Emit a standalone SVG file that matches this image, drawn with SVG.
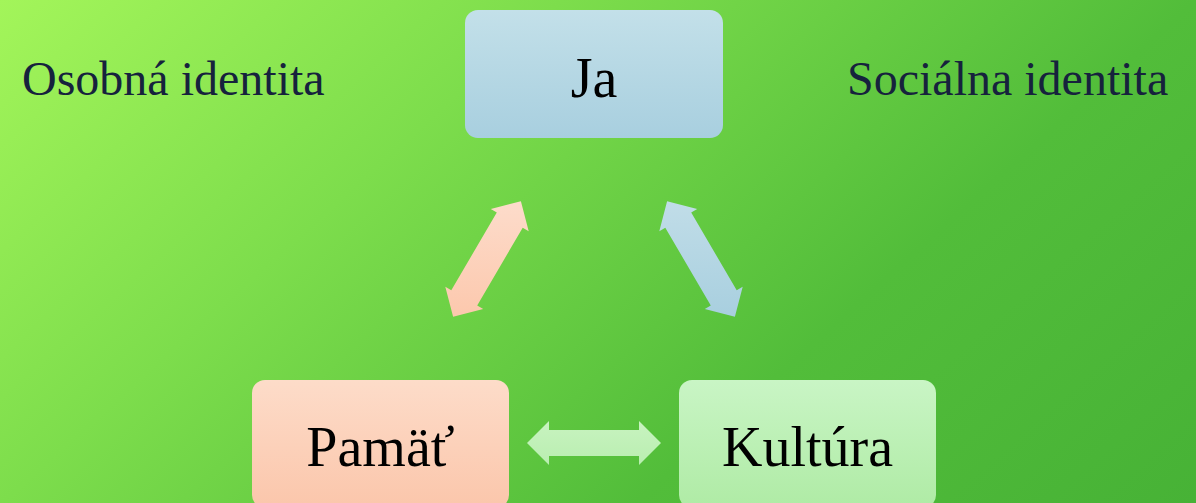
<svg xmlns="http://www.w3.org/2000/svg" width="1196" height="503" viewBox="0 0 1196 503">
  <defs>
    <linearGradient id="bg" gradientUnits="userSpaceOnUse" x1="0" y1="0" x2="784" y2="874">
      <stop offset="0" stop-color="#a3f55a"/>
      <stop offset="0.32" stop-color="#7ddd4c"/>
      <stop offset="0.68" stop-color="#52bd3a"/>
      <stop offset="1" stop-color="#47b236"/>
    </linearGradient>
    <linearGradient id="gBlue" x1="0" y1="0" x2="0" y2="1">
      <stop offset="0" stop-color="#c3e0e9"/>
      <stop offset="1" stop-color="#a8cfdf"/>
    </linearGradient>
    <linearGradient id="gOrange" x1="0" y1="0" x2="0" y2="1">
      <stop offset="0" stop-color="#fddcc9"/>
      <stop offset="1" stop-color="#fbc6ab"/>
    </linearGradient>
    <linearGradient id="gGreen" x1="0" y1="0" x2="0" y2="1">
      <stop offset="0" stop-color="#c9f5c5"/>
      <stop offset="1" stop-color="#afeba5"/>
    </linearGradient>
    <linearGradient id="aOrange" x1="0" y1="0" x2="0" y2="1">
      <stop offset="0" stop-color="#fddccb"/>
      <stop offset="1" stop-color="#fcc8ad"/>
    </linearGradient>
    <linearGradient id="aBlue" x1="0" y1="0" x2="0" y2="1">
      <stop offset="0" stop-color="#c1dde8"/>
      <stop offset="1" stop-color="#a8cfdf"/>
    </linearGradient>
    <linearGradient id="aGreen" x1="0" y1="0" x2="0" y2="1">
      <stop offset="0" stop-color="#c8f3c0"/>
      <stop offset="1" stop-color="#b9eeb0"/>
    </linearGradient>
  </defs>
  <style>
    .box { stroke: none; }
    .lbl { font-family: "Liberation Serif", "Times New Roman", serif; font-size: 56px; fill: #000000; text-anchor: middle; }
    .side { font-family: "Liberation Serif", "Times New Roman", serif; font-size: 48px; fill: #16223d; }
  </style>
  <rect x="0" y="0" width="1196" height="503" fill="url(#bg)"/>

  <g id="side-labels">
    <text class="side" x="22" y="95">Osobná identita</text>
    <text class="side" x="847" y="95">Sociálna identita</text>
  </g>

  <g id="connectors">
    <polygon fill="url(#aOrange)" points="520.9,201.2 528.7,231.3 522.7,227.8 477.2,305.4 483.2,308.9 453.1,316.8 445.3,286.7 451.3,290.2 496.8,212.6 490.8,209.1"/>
    <polygon fill="url(#aBlue)" points="667.1,201.2 697.2,209.1 691.2,212.6 736.7,290.2 742.7,286.7 734.9,316.8 704.8,308.9 710.8,305.4 665.3,227.8 659.3,231.3"/>
    <polygon fill="url(#aGreen)" points="527,443 549,421 549,430 639,430 639,421 661,443 639,465 639,456 549,456 549,465"/>
  </g>

  <g id="node-ja">
    <rect class="box" x="465" y="10" width="258" height="128" rx="13" fill="url(#gBlue)"/>
    <text class="lbl" x="594" y="97">Ja</text>
  </g>
  <g id="node-pamat">
    <rect class="box" x="252" y="380" width="257" height="128" rx="13" fill="url(#gOrange)"/>
    <text class="lbl" x="380.5" y="466">Pamäť</text>
  </g>
  <g id="node-kultura">
    <rect class="box" x="679" y="380" width="257" height="128" rx="13" fill="url(#gGreen)"/>
    <text class="lbl" x="807.5" y="466">Kultúra</text>
  </g>
</svg>
